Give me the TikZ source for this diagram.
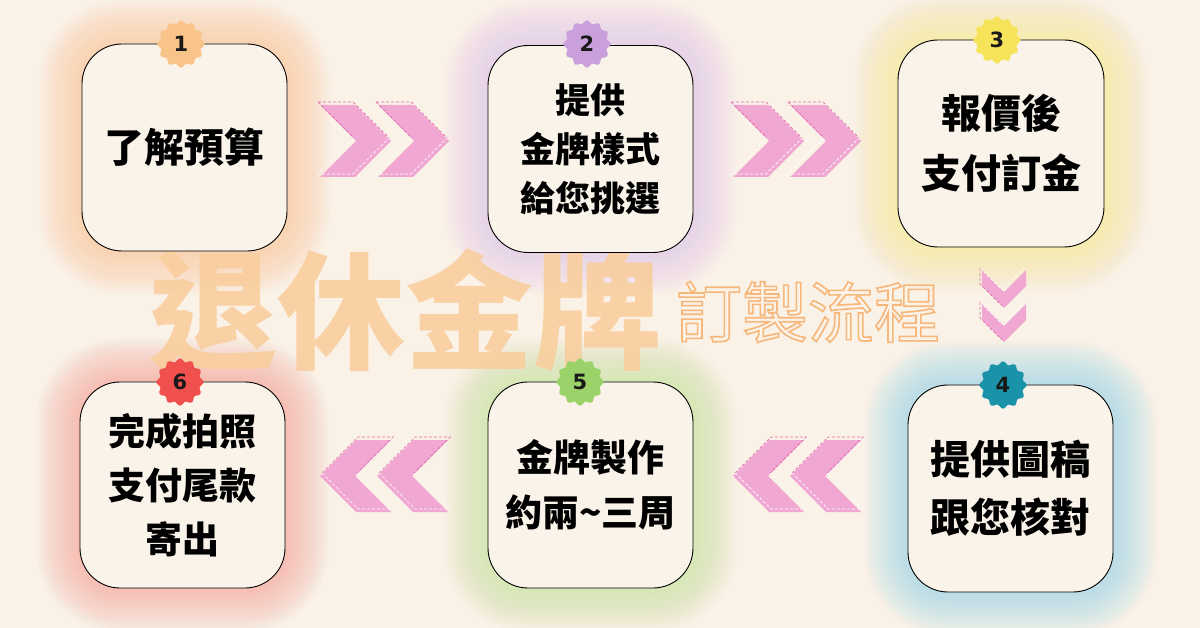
\documentclass[tikz,border=0pt]{standalone}
\usepackage{fontspec}
\newfontfamily\cjk{Noto Sans CJK TC}
\newfontfamily\numfont{DejaVu Sans}
\usetikzlibrary{calc}
\definecolor{bgcream}{HTML}{FAF1E7}
\definecolor{cardfill}{HTML}{FAF3EA}
\definecolor{chevpink}{HTML}{F0A8D2}
\definecolor{chevline}{HTML}{E06AB0}
\definecolor{titleorange}{HTML}{F9CE9E}
\definecolor{subline}{HTML}{F7B77A}
\definecolor{c1}{HTML}{F9C48A}
\definecolor{c2}{HTML}{C9A0DC}
\definecolor{c3}{HTML}{F7E35A}
\definecolor{c4}{HTML}{1A93A8}
\definecolor{c5}{HTML}{9BD26A}
\definecolor{c6}{HTML}{F0514F}
\definecolor{g1}{HTML}{F9C99A}
\definecolor{g2}{HTML}{E7C8E8}
\definecolor{g3}{HTML}{F6EB96}
\definecolor{g4}{HTML}{9ADDE6}
\definecolor{g5}{HTML}{C8E7A0}
\definecolor{g6}{HTML}{F6A89E}
\pgfdeclarelayer{bglayer}
\pgfdeclarelayer{glowlayer}
\pgfdeclarelayer{titlelayer}
\pgfsetlayers{bglayer,glowlayer,titlelayer,main}
\tikzset{
  card/.style={draw=black, line width=0.9pt, fill=cardfill, rounded corners=40pt,
    minimum width=205pt, minimum height=207pt, inner sep=0pt,
    align=center, text=black},
  cardfont/.style 2 args={font=\cjk\bfseries\fontsize{#1}{#2}\selectfont},
  badgetxt/.style={font=\numfont\bfseries\fontsize{21}{21}\selectfont, text=black!90, inner sep=0pt},
  chev/.style={fill=chevpink, draw=none},
  chevdashA/.style={draw=chevline, dash pattern=on 3pt off 2pt, line width=0.7pt},
  chevdashB/.style={draw=white, dash pattern=on 3pt off 2pt, line width=0.7pt},
}
\newcommand{\glowbox}[5]{% cx cy w h color
  \foreach \i in {1,...,22}{
    \fill[#5, opacity=0.04, rounded corners={40pt+\i*2pt}]
      ({#1-#3/2-\i*2},{#2-#4/2-\i*2}) rectangle ({#1+#3/2+\i*2},{#2+#4/2+\i*2});
  }}
\newcommand{\badge}[2]{% position, colour
  \fill[#2, shift={(#1)}] plot[domain=0:360, samples=144, smooth cycle] (\x:{22+1.6*cos(12*\x)});}
\newcommand{\rchev}[2]{%
  \fill[chev] (#1,#2) -- ++(35,0) -- ++(36,36) -- ++(-36,36) -- ++(-35,0) -- ++(36,-36) -- cycle;
  \draw[chevdashA] (#1-2,#2-3) -- ++(35,0) -- ++(36,36);
  \draw[chevdashA] (#1-2,#2-3) -- ++(36,36);
  \draw[chevdashB] (#1+34,#2+33) -- ++(-36,36) -- ++(35,0) -- ++(36,-36);}
\newcommand{\lchev}[2]{%
  \fill[chev] (#1,#2+36) -- ++(36,-36) -- ++(35,0) -- ++(-36,36) -- ++(36,36) -- ++(-35,0) -- cycle;
  \draw[chevdashA] (#1+2,#2+33) -- ++(36,-36) -- ++(35,0) -- ++(-36,36);
  \draw[chevdashB] (#1+2,#2+33) -- ++(36,36) -- ++(35,0) -- ++(-36,-36);}
\newcommand{\dchev}[2]{%
  \fill[chev] (#1,#2) -- ++(22,22) -- ++(22,-22) -- ++(0,16) -- ++(-22,22) -- ++(-22,-22) -- cycle;
  \draw[chevdashB] (#1-2,#2-2) -- ++(22,22) -- ++(22,-22);
  \draw[chevdashA] (#1-2,#2-2) -- ++(0,16) -- ++(22,22);}
\begin{document}
\begin{tikzpicture}[x=1pt,y=-1pt]
\begin{pgfonlayer}{bglayer}
\fill[bgcream] (0,0) rectangle (1200,628);
\end{pgfonlayer}
\useasboundingbox (0,0) rectangle (1200,628);

% glows
\begin{pgfonlayer}{glowlayer}
\glowbox{184.5}{147.5}{205}{207}{g1}
\glowbox{590.5}{147.5}{205}{207}{g2}
\glowbox{1001}{143.5}{206}{207}{g3}
\glowbox{1010.5}{488.5}{205}{207}{g4}
\glowbox{590.5}{485}{205}{206}{g5}
\glowbox{182.5}{485}{205}{206}{g6}
\end{pgfonlayer}

% title
\begin{pgfonlayer}{titlelayer}
\node[inner sep=0pt, text=titleorange, opacity=0.9, font=\cjk\bfseries\fontsize{128}{128}\selectfont] (title) at (405,310) {退休金牌};
\node[inner sep=0pt, text=subline, font=\cjk\fontsize{66}{66}\selectfont] (sub) at (808,312)
  {\special{pdf:literal direct 1 Tr 1.6 w}訂製流程\special{pdf:literal direct 0 Tr}};
\end{pgfonlayer}

% cards
\node[card, cardfont={40}{58}] (b1) at (184.5,147.5) {了解預算};
\node[card, cardfont={35}{49}] (b2) at (590.5,149) {提供\\金牌樣式\\給您挑選};
\node[card, cardfont={40}{60}, minimum width=206pt] (b3) at (1001,143.5) {報價後\\支付訂金};
\node[card, cardfont={40}{58}] (b4) at (1010.5,488.5) {提供圖稿\\跟您核對};
\node[card, cardfont={37}{55}, minimum height=206pt] (b5) at (590.5,485) {金牌製作\\約兩\textasciitilde 三周};
\node[card, cardfont={37}{54}, minimum height=206pt] (b6) at (182.5,485) {完成拍照\\支付尾款\\寄出};

% badges
\coordinate (p1) at (181,44);
\coordinate (p2) at (587,44);
\coordinate (p3) at (997,40);
\coordinate (p4) at (1003,385);
\coordinate (p5) at (580,382);
\coordinate (p6) at (180,382);
\badge{p1}{c1}\node[badgetxt] (n1) at (p1) {1};
\badge{p2}{c2}\node[badgetxt] (n2) at (p2) {2};
\badge{p3}{c3}\node[badgetxt] (n3) at (p3) {3};
\badge{p4}{c4}\node[badgetxt] (n4) at (p4) {4};
\badge{p5}{c5}\node[badgetxt] (n5) at (p5) {5};
\badge{p6}{c6}\node[badgetxt] (n6) at (p6) {6};

% chevrons
\rchev{320}{105}\rchev{378}{105}
\rchev{733}{105}\rchev{790}{105}
\dchev{982}{270}\dchev{982}{304}
\lchev{320}{440}\lchev{377}{440}
\lchev{733}{440}\lchev{790}{440}
\end{tikzpicture}
\end{document}
